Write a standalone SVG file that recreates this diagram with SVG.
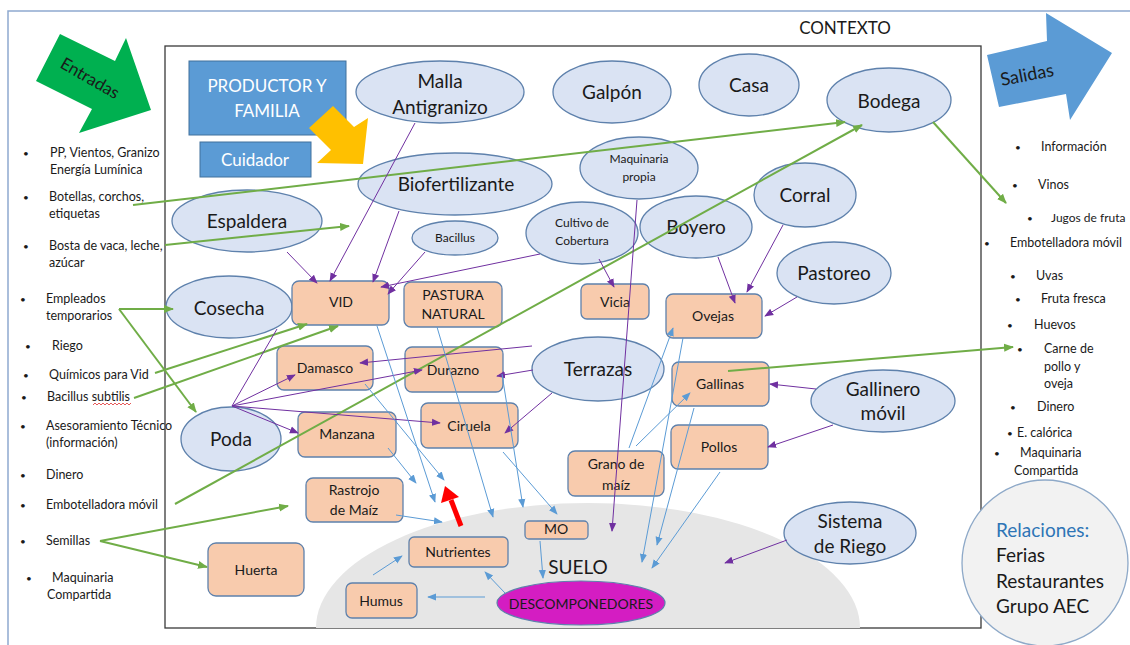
<svg xmlns="http://www.w3.org/2000/svg" width="1130" height="645" viewBox="0 0 1130 645">
  <style>
    text { font-family: Lato, "Noto Sans", sans-serif; fill: #1a1a1a; }
    .ell { fill: #DAE3F3; stroke: #5E81AC; stroke-width: 1.3; }
    .box { fill: #F8CBAD; stroke: #5E81AC; stroke-width: 1.3; }
    .big { font-size: 19px; text-anchor: middle; }
    .mid { font-size: 14px; text-anchor: middle; }
    .sm { font-size: 12px; text-anchor: middle; }
    .lst { font-size: 12.5px; }
    .bul { font-size: 10px; }
    .wt { fill: #ffffff; font-size: 17px; text-anchor: middle; }
    .g { stroke: #70AD47; stroke-width: 2; fill: none; marker-end: url(#aG); }
    .gn { stroke: #70AD47; stroke-width: 2; fill: none; }
    .p { stroke: #7030A0; stroke-width: 1; fill: none; marker-end: url(#aP); }
    .pn { stroke: #7030A0; stroke-width: 1; fill: none; }
    .b { stroke: #5B9BD5; stroke-width: 1; fill: none; marker-end: url(#aB); }
  </style>
  <defs>
    <marker id="aP" viewBox="0 0 10 10" refX="9" refY="5" markerWidth="9" markerHeight="9" orient="auto" markerUnits="userSpaceOnUse">
      <path d="M0,1 L10,5 L0,9 Z" fill="#7030A0"/>
    </marker>
    <marker id="aB" viewBox="0 0 10 10" refX="9" refY="5" markerWidth="9" markerHeight="9" orient="auto" markerUnits="userSpaceOnUse">
      <path d="M0,1 L10,5 L0,9 Z" fill="#5B9BD5"/>
    </marker>
    <marker id="aG" viewBox="0 0 10 10" refX="9" refY="5" markerWidth="10" markerHeight="10" orient="auto" markerUnits="userSpaceOnUse">
      <path d="M0,1 L10,5 L0,9 Z" fill="#70AD47"/>
    </marker>
  </defs>

  <rect width="1130" height="645" fill="#ffffff"/>
  <!-- page edge -->
  <path d="M8,645 V11 H1130" fill="none" stroke="#8EA9D0" stroke-width="1.5"/>
  <!-- context frame -->
  <rect x="165" y="46" width="816" height="582" fill="none" stroke="#3a3a3a" stroke-width="1.3"/>
  <text x="845" y="34" style="font-size:17px;text-anchor:middle">CONTEXTO</text>

  <!-- inputs arrow -->
  <g id="entradas">
    <polygon points="60,34 115,61 126,38 151,110 79,133 92,109 36,81" fill="#00B050"/>
    <text x="90" y="84" transform="rotate(30 90 78)" style="font-size:17px;text-anchor:middle">Entradas</text>
  </g>
  <!-- outputs arrow -->
  <g id="salidas">
    <polygon points="987,55 1047,41 1046,13 1112,53 1070,120 1066,94 999,107" fill="#5B9BD5"/>
    <text x="1027" y="81" transform="rotate(-11 1027 75)" style="font-size:18px;text-anchor:middle">Salidas</text>
  </g>

  <!-- input list -->
  <g id="lista-entradas" class="lst">
    <text x="23" y="157" class="bul">•</text><text x="50" y="157" class="lst">PP, Vientos, Granizo</text>
    <text x="50" y="174" class="lst">Energía Lumínica</text>
    <text x="23" y="201" class="bul">•</text><text x="49" y="201" class="lst">Botellas, corchos,</text>
    <text x="49" y="218" class="lst">etiquetas</text>
    <text x="23" y="250" class="bul">•</text><text x="49" y="250" class="lst">Bosta de vaca, leche,</text>
    <text x="49" y="267" class="lst">azúcar</text>
    <text x="20" y="303" class="bul">•</text><text x="46" y="303" class="lst">Empleados</text>
    <text x="46" y="320" class="lst">temporarios</text>
    <text x="25" y="350" class="bul">•</text><text x="52" y="350" class="lst">Riego</text>
    <text x="23" y="379" class="bul">•</text><text x="49" y="379" class="lst">Químicos para Vid</text>
    <text x="21" y="401" class="bul">•</text><text x="47" y="401" class="lst">Bacillus subtilis</text>
    <path d="M93,405 l2,-2 l2,2 l2,-2 l2,2 l2,-2 l2,2 l2,-2 l2,2 l2,-2 l2,2 l2,-2 l2,2 l2,-2 l2,2 l2,-2 l2,2 l2,-2 l2,2 l2,-2" fill="none" stroke="#E03030" stroke-width="0.8"/>
    <text x="20" y="430" class="bul">•</text><text x="46" y="430" class="lst">Asesoramiento Técnico</text>
    <text x="46" y="447" class="lst">(información)</text>
    <text x="20" y="479" class="bul">•</text><text x="46" y="479" class="lst">Dinero</text>
    <text x="20" y="509" class="bul">•</text><text x="46" y="509" class="lst">Embotelladora móvil</text>
    <text x="20" y="545" class="bul">•</text><text x="46" y="545" class="lst">Semillas</text>
    <text x="26" y="582" class="bul">•</text><text x="52" y="582" class="lst">Maquinaria</text>
    <text x="47" y="599" class="lst">Compartida</text>
  </g>

  <!-- output list -->
  <g id="lista-salidas">
    <text x="1015" y="151" class="bul">•</text><text x="1041" y="151" class="lst">Información</text>
    <text x="1012" y="189" class="bul">•</text><text x="1038" y="189" class="lst">Vinos</text>
    <text x="1027" y="222" class="bul">•</text><text x="1051" y="222" style="font-size:12px">Jugos de fruta</text>
    <text x="984" y="247" class="bul">•</text><text x="1010" y="247" class="lst">Embotelladora móvil</text>
    <text x="1010" y="280" class="bul">•</text><text x="1036" y="280" class="lst">Uvas</text>
    <text x="1015" y="303" class="bul">•</text><text x="1041" y="303" class="lst">Fruta fresca</text>
    <text x="1007" y="329" class="bul">•</text><text x="1034" y="329" class="lst">Huevos</text>
    <text x="1017" y="353" class="bul">•</text><text x="1044" y="353" class="lst">Carne de</text>
    <text x="1044" y="371" class="lst">pollo y</text>
    <text x="1044" y="388" class="lst">oveja</text>
    <text x="1010" y="411" class="bul">•</text><text x="1037" y="411" class="lst">Dinero</text>
    <text x="1007" y="437" class="bul">•</text><text x="1017" y="437" class="lst">E. calórica</text>
    <text x="994" y="457" class="bul">•</text><text x="1020" y="457" class="lst">Maquinaria</text>
    <text x="1014" y="475" class="lst">Compartida</text>
  </g>

  <!-- relations bubble -->
  <g id="relaciones">
    <circle cx="1045" cy="563" r="83" fill="#F2F2F2" stroke="#8EA9C8" stroke-width="1.3"/>
    <text x="996" y="537" style="font-size:19px;fill:#2E75B6">Relaciones:</text>
    <text x="996" y="562" style="font-size:19px">Ferias</text>
    <text x="996" y="588" style="font-size:19px">Restaurantes</text>
    <text x="996" y="613" style="font-size:19px">Grupo AEC</text>
  </g>

  <!-- soil -->
  <g id="suelo">
    <path d="M316,628 A272,125 0 0 1 860,628 Z" fill="#E6E6E6"/>
    <text x="578" y="574" class="big">SUELO</text>
  </g>

  <!-- actors -->
  <g id="productor">
    <rect x="189" y="61" width="157" height="74" fill="#5B9BD5" stroke="#41719C" stroke-width="1"/>
    <text x="267" y="92" class="wt">PRODUCTOR Y</text>
    <text x="267" y="117" class="wt">FAMILIA</text>
  </g>
  <g id="cuidador">
    <rect x="200" y="142" width="111" height="35" fill="#5B9BD5" stroke="#41719C" stroke-width="1"/>
    <text x="255" y="166" class="wt">Cuidador</text>
  </g>
  <polygon id="flecha-productor" points="309,128 333,106 354,127 368,118 363,164 317,163 331,150" fill="#FFC000"/>

  <!-- infrastructure / practices -->
  <g id="malla"><ellipse class="ell" cx="440" cy="92" rx="84" ry="31"/><text x="440" y="88" class="big">Malla</text><text x="440" y="114" class="big">Antigranizo</text></g>
  <g id="galpon"><ellipse class="ell" cx="612" cy="92" rx="59" ry="31"/><text x="612" y="99" class="big">Galpón</text></g>
  <g id="casa"><ellipse class="ell" cx="749" cy="85" rx="50" ry="31"/><text x="749" y="92" class="big">Casa</text></g>
  <g id="bodega"><ellipse class="ell" cx="889" cy="100" rx="62" ry="32"/><text x="889" y="108" class="big">Bodega</text></g>
  <g id="maquinaria"><ellipse class="ell" cx="639" cy="168" rx="59" ry="31"/><text x="639" y="163" class="sm">Maquinaria</text><text x="639" y="181" class="sm">propia</text></g>
  <g id="corral"><ellipse class="ell" cx="805" cy="195" rx="51" ry="32"/><text x="805" y="202" class="big">Corral</text></g>
  <g id="boyero"><ellipse class="ell" cx="696" cy="227" rx="56" ry="31"/><text x="696" y="234" class="big">Boyero</text></g>
  <g id="biofertilizante"><ellipse class="ell" cx="455" cy="184" rx="97" ry="31"/><text x="456" y="191" class="big">Biofertilizante</text></g>
  <g id="espaldera"><ellipse class="ell" cx="247" cy="221" rx="75" ry="31"/><text x="247" y="228" class="big">Espaldera</text></g>
  <g id="bacillus"><ellipse class="ell" cx="455" cy="238" rx="43" ry="17"/><text x="455" y="242" class="sm">Bacillus</text></g>
  <g id="cultivo"><ellipse class="ell" cx="582" cy="233" rx="56" ry="31"/><text x="582" y="227" class="sm">Cultivo de</text><text x="582" y="245" class="sm">Cobertura</text></g>
  <g id="pastoreo"><ellipse class="ell" cx="834" cy="273" rx="57" ry="31"/><text x="834" y="280" class="big">Pastoreo</text></g>
  <g id="cosecha"><ellipse class="ell" cx="229" cy="307" rx="63" ry="31"/><text x="229" y="315" class="big">Cosecha</text></g>
  <g id="terrazas"><ellipse class="ell" cx="598" cy="369" rx="66" ry="32"/><text x="598" y="376" class="big">Terrazas</text></g>
  <g id="poda"><ellipse class="ell" cx="231" cy="439" rx="50" ry="32"/><text x="231" y="446" class="big">Poda</text></g>
  <g id="gallinero"><ellipse class="ell" cx="883" cy="401" rx="72" ry="31"/><text x="883" y="396" class="big">Gallinero</text><text x="883" y="420" class="big">móvil</text></g>
  <g id="riego"><ellipse class="ell" cx="850" cy="533" rx="66" ry="31"/><text x="850" y="528" class="big">Sistema</text><text x="850" y="553" class="big">de Riego</text></g>

  <!-- production components -->
  <g id="vid"><rect class="box" x="292" y="281" width="97" height="44" rx="7"/><text x="341" y="307" class="mid">VID</text></g>
  <g id="pastura"><rect class="box" x="404" y="282" width="98" height="45" rx="7"/><text x="453" y="300" class="mid">PASTURA</text><text x="453" y="319" class="mid">NATURAL</text></g>
  <g id="vicia"><rect class="box" x="581" y="284" width="68" height="35" rx="6"/><text x="615" y="307" class="mid">Vicia</text></g>
  <g id="ovejas"><rect class="box" x="666" y="294" width="96" height="44" rx="7"/><text x="713" y="321" class="mid">Ovejas</text></g>
  <g id="damasco"><rect class="box" x="277" y="346" width="96" height="44" rx="7"/><text x="325" y="373" class="mid">Damasco</text></g>
  <g id="durazno"><rect class="box" x="405" y="347" width="98" height="45" rx="7"/><text x="453" y="375" class="mid">Durazno</text></g>
  <g id="gallinas"><rect class="box" x="672" y="362" width="97" height="44" rx="7"/><text x="720" y="389" class="mid">Gallinas</text></g>
  <g id="manzana"><rect class="box" x="298" y="412" width="98" height="45" rx="7"/><text x="347" y="439" class="mid">Manzana</text></g>
  <g id="ciruela"><rect class="box" x="421" y="403" width="97" height="45" rx="7"/><text x="469" y="431" class="mid">Ciruela</text></g>
  <g id="pollos"><rect class="box" x="671" y="425" width="97" height="44" rx="7"/><text x="719" y="452" class="mid">Pollos</text></g>
  <g id="grano"><rect class="box" x="568" y="451" width="96" height="45" rx="7"/><text x="616" y="469" class="mid">Grano de</text><text x="616" y="490" class="mid">maíz</text></g>
  <g id="rastrojo"><rect class="box" x="306" y="478" width="97" height="44" rx="7"/><text x="354" y="495" class="mid">Rastrojo</text><text x="354" y="515" class="mid">de Maíz</text></g>
  <g id="huerta"><rect class="box" x="208" y="543" width="96" height="53" rx="8"/><text x="256" y="575" class="mid">Huerta</text></g>
  <g id="mo"><rect class="box" x="525" y="521" width="63" height="18" rx="4"/><text x="556" y="534" class="mid">MO</text></g>
  <g id="nutrientes"><rect class="box" x="409" y="537" width="99" height="30" rx="5"/><text x="458" y="557" class="mid">Nutrientes</text></g>
  <g id="humus"><rect class="box" x="346" y="583" width="71" height="35" rx="6"/><text x="381" y="606" class="mid">Humus</text></g>
  <g id="descomponedores"><ellipse cx="581" cy="603" rx="84" ry="22" fill="#D41DC2" stroke="#5E81AC" stroke-width="1.2"/><text x="581" y="609" class="mid">DESCOMPONEDORES</text></g>

  <!-- connectors -->
  <g id="conectores">
    <!-- inputs and outputs -->
    <line class="g" x1="133" y1="205" x2="845" y2="122"/>
    <line class="g" x1="165" y1="245" x2="349" y2="226"/>
    <line class="g" x1="119" y1="309" x2="173" y2="309"/>
    <line class="g" x1="119" y1="309" x2="196" y2="412"/>
    <line class="g" x1="155" y1="373" x2="307" y2="324"/>
    <line class="g" x1="134" y1="398" x2="338" y2="326"/>
    <line class="g" x1="175" y1="504" x2="862" y2="125"/>
    <line class="g" x1="100" y1="541" x2="288" y2="506"/>
    <line class="g" x1="100" y1="541" x2="207" y2="567"/>
    <line class="g" x1="728" y1="371" x2="1013" y2="347"/>
    <line class="g" x1="933" y1="122" x2="1006" y2="203"/>

    <!-- management flows -->
    <line class="p" x1="415" y1="123" x2="330" y2="281"/>
    <line class="p" x1="399" y1="211" x2="373" y2="282"/>
    <line class="p" x1="287" y1="252" x2="317" y2="283"/>
    <line class="p" x1="425" y1="252" x2="388" y2="294"/>
    <line class="p" x1="540" y1="254" x2="381" y2="287"/>
    <line class="p" x1="599" y1="259" x2="614" y2="287"/>
    <line class="p" x1="637" y1="200" x2="612" y2="531"/>
    <line class="p" x1="718" y1="257" x2="735" y2="303"/>
    <line class="p" x1="783" y1="225" x2="747" y2="292"/>
    <line class="p" x1="797" y1="297" x2="765" y2="316"/>
    <line class="p" x1="532" y1="346" x2="360" y2="363"/>
    <line class="p" x1="533" y1="370" x2="497" y2="376"/>
    <line class="p" x1="552" y1="393" x2="505" y2="433"/>
    <line class="p" x1="816" y1="389" x2="770" y2="384"/>
    <line class="p" x1="833" y1="425" x2="768" y2="447"/>
    <line class="p" x1="787" y1="540" x2="725" y2="563"/>
    <line class="p" x1="232" y1="406" x2="295" y2="375"/>
    <line class="p" x1="232" y1="406" x2="422" y2="370"/>
    <line class="p" x1="232" y1="406" x2="298" y2="433"/>
    <line class="p" x1="232" y1="406" x2="440" y2="423"/>
    <line class="pn" x1="232" y1="406" x2="277" y2="329"/>

    <!-- matter flows -->
    <line class="b" x1="377" y1="326" x2="435" y2="502"/>
    <line class="b" x1="365" y1="384" x2="444" y2="480"/>
    <line class="b" x1="388" y1="448" x2="416" y2="483"/>
    <line class="b" x1="437" y1="327" x2="493" y2="517"/>
    <line class="b" x1="502" y1="374" x2="523" y2="507"/>
    <line class="b" x1="503" y1="452" x2="557" y2="514"/>
    <line class="b" x1="396" y1="515" x2="442" y2="522"/>
    <line class="b" x1="373" y1="575" x2="402" y2="556"/>
    <line class="b" x1="485" y1="597" x2="428" y2="597"/>
    <line class="b" x1="505" y1="593" x2="485" y2="572"/>
    <line class="b" x1="540" y1="541" x2="543" y2="578"/>
    <line class="b" x1="629" y1="448" x2="673" y2="328"/>
    <line class="b" x1="636" y1="446" x2="690" y2="393"/>
    <line class="b" x1="683" y1="338" x2="642" y2="562"/>
    <line class="b" x1="694" y1="408" x2="657" y2="545"/>
    <line class="b" x1="720" y1="472" x2="652" y2="568"/>

    <!-- nutrient return -->
    <line x1="461" y1="526" x2="451" y2="500" stroke="#FF0000" stroke-width="5"/>
    <polygon points="445,486 441,503 459,497" fill="#FF0000"/>
  </g>
</svg>
